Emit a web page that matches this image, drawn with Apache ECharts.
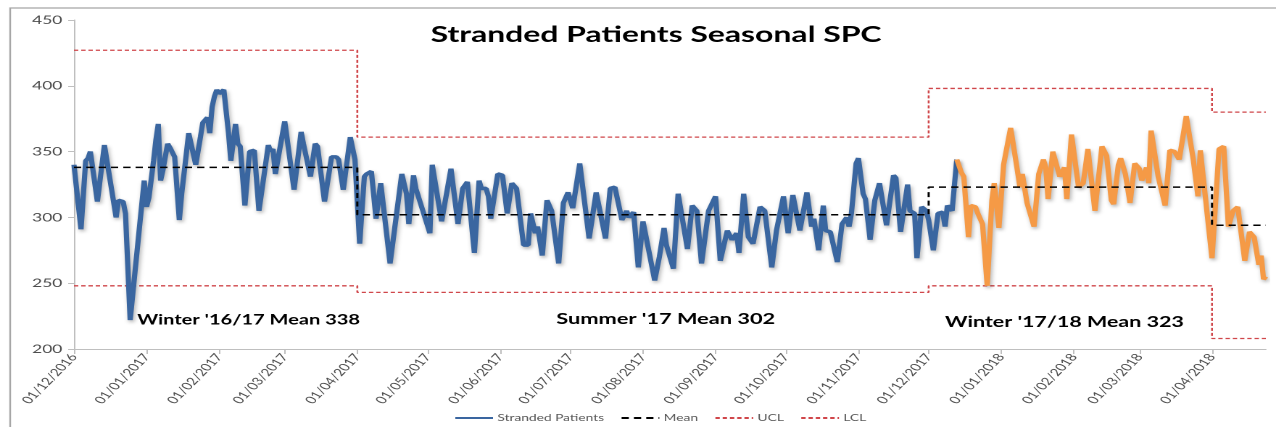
<!DOCTYPE html>
<html><head><meta charset="utf-8">
<script src="https://cdn.jsdelivr.net/npm/echarts@6/dist/echarts.min.js"></script>
<style>
html,body{margin:0;padding:0;background:#fff;overflow:hidden;width:1276px;height:427px}
#c{width:880px;height:427px;transform:scaleX(1.45);transform-origin:0 0}
</style>
</head><body><div id="c"></div>
<script>
// ---- data ----
const chartTitle = 'Stranded Patients Seasonal SPC';
const seriesStart = [2016, 12, 1];            // day 0
// Stranded patients, days since 01/12/2016 (blue part)
const blueDays = [0,3,5,6,7,10,13,14,18,19,21,22,24,25,28,30,31,32,34,35,36,37,38,40,41,43,45,46,49,50,51,52,54,55,57,58,59,60,61,62,64,66,67,69,70,71,73,75,77,79,83,84,85,86,90,94,97,98,101,103,104,107,110,112,113,115,118,120,122,124,125,127,129,131,135,140,142,143,145,146,147,152,153,157,161,164,166,168,171,173,174,176,177,178,181,183,185,187,189,190,192,194,195,196,197,198,200,202,204,207,209,211,213,216,220,223,227,229,231,234,236,237,239,241,243,244,248,250,252,253,254,256,258,262,264,266,268,271,274,276,279,281,283,284,286,288,290,293,295,298,300,303,305,307,310,311,313,315,316,318,320,321,323,326,328,330,331,332,334,335,337,338,340,342,344,345,347,350,351,353,356,357,359,360,362,364,365,367,369,371,372,373,375,377];
const blueValues = [340,291,343,345,350,312,355,354,300,313,312,303,222,221,293,328,308,315,343,359,371,328,336,356,353,346,298,318,364,356,355,340,361,372,376,364,384,392,397,394,397,364,343,371,356,354,309,350,351,305,355,350,352,333,373,321,365,356,331,356,354,312,346,346,344,321,361,344,280,331,333,335,299,326,265,333,318,295,332,322,323,288,340,297,337,295,322,327,273,328,322,322,316,299,333,332,303,326,322,321,279,279,303,304,288,293,271,313,305,265,311,319,307,341,284,319,284,322,323,298,305,300,304,262,297,298,252,270,292,279,279,261,318,276,309,305,265,305,316,267,290,283,288,273,318,285,280,308,305,262,290,316,288,317,290,290,319,293,299,275,309,290,289,266,295,300,293,303,341,345,318,314,283,313,326,327,294,332,330,289,325,305,303,269,308,305,298,275,303,304,293,309,305,344];
// Stranded patients, winter '17/18 (orange part)
const orangeDays = [377,379,380,382,383,385,386,388,390,392,393,395,397,400,401,404,405,407,410,412,414,415,416,418,421,423,424,426,429,431,433,436,439,441,443,444,446,447,449,451,453,455,456,458,459,460,463,466,468,470,472,475,478,480,481,486,489,491,493,495,497,500,502,504,506,507,508,509];
const orangeValues = [344,334,331,285,309,308,303,295,248,313,326,292,340,368,357,323,333,311,293,333,344,338,314,350,331,338,314,363,323,326,352,305,354,347,313,310,340,345,333,311,341,337,328,338,326,366,331,309,351,350,344,377,344,316,351,269,352,354,293,305,308,267,289,285,264,271,253,255];
// Seasonal control limits
const periodStarts = ['01/12/2016', '01/04/2017', '01/12/2017', '01/04/2018'];
const periodEnd = '24/04/2018';
const meanValues = [338, 302, 323, 294];
const uclValues = [427, 361, 398, 380];
const lclValues = [248, 243, 248, 208];
// Axis ticks
const xTickLabels = ['01/12/2016','01/01/2017','01/02/2017','01/03/2017','01/04/2017','01/05/2017','01/06/2017','01/07/2017','01/08/2017','01/09/2017','01/10/2017','01/11/2017','01/12/2017','01/01/2018','01/02/2018','01/03/2018','01/04/2018'];
const yTicks = [200, 250, 300, 350, 400, 450];
// Annotations (text, anchor day, anchor value)
const annotationTexts = ["Winter '16/17 Mean 338", "Summer '17 Mean 302", "Winter '17/18 Mean 323"];
const annotationDays = [27, 206, 372];
const annotationValues = [222, 222.5, 220.5];

// ---- layout / style ----
const annotationFontSizes = [13.8, 15, 14.8];
function parseDMY(s) { const p = s.split('/').map(Number); return new Date(p[2], p[1] - 1, p[0]).getTime(); }
function dayTs(d) { return new Date(seriesStart[0], seriesStart[1] - 1, seriesStart[2] + d).getTime(); }
function pad(n) { return (n < 10 ? '0' : '') + n; }
function fmt(v) { const d = new Date(v); return pad(d.getDate()) + '/' + pad(d.getMonth() + 1) + '/' + d.getFullYear(); }
function stepData(vals) {
  const arr = periodStarts.map((s, i) => [parseDMY(s), vals[i]]);
  arr.push([parseDMY(periodEnd), vals[vals.length - 1]]);
  return arr;
}
const tickTs = xTickLabels.map(parseDMY);
const FONT = 'Lato';
const shadow = { shadowColor: 'rgba(0,0,0,0.3)', shadowBlur: 3, shadowOffsetX: 1, shadowOffsetY: 2 };

const chart = echarts.init(document.getElementById('c'), null, { renderer: 'canvas', devicePixelRatio: 2 });
chart.setOption({
  animation: false,
  backgroundColor: '#ffffff',
  textStyle: { fontFamily: FONT },
  title: {
    text: chartTitle, left: 292, top: 19,
    textStyle: { fontFamily: FONT, fontWeight: 'bold', fontSize: 22, color: '#000' }
  },
  legend: {
    data: ['Stranded Patients', 'Mean', 'UCL', 'LCL'],
    left: 308, top: 408, itemWidth: 26, itemHeight: 10, itemGap: 11,
    itemStyle: { opacity: 0 },
    textStyle: { fontFamily: FONT, fontSize: 9.5, color: '#595959', padding: [0, 0, 0, -2] }
  },
  grid: { left: 51, right: 7, top: 20, bottom: 78, containLabel: false },
  xAxis: {
    type: 'value', min: parseDMY(xTickLabels[0]), max: parseDMY(periodEnd), scale: true,
    axisLine: { lineStyle: { color: '#bfbfbf', width: 1 } },
    axisTick: { show: true, customValues: tickTs, length: 5, lineStyle: { color: '#bfbfbf' } },
    axisLabel: { customValues: tickTs, rotate: 55, formatter: fmt, fontFamily: FONT, fontSize: 10.5, color: '#4d4d4d', margin: 6, showMaxLabel: true, showMinLabel: true },
    splitLine: { show: false }
  },
  yAxis: {
    type: 'value', min: yTicks[0], max: yTicks[yTicks.length - 1], interval: 50,
    axisLine: { show: true, lineStyle: { color: '#bfbfbf', width: 1 } },
    axisTick: { show: true, length: 4, lineStyle: { color: '#bfbfbf' } },
    axisLabel: { fontFamily: FONT, fontSize: 12, color: '#4d4d4d', margin: 8 },
    splitLine: { show: false }
  },
  graphic: [{
    type: 'rect', shape: { x: 7, y: 8, width: 1000, height: 500 },
    style: { fill: 'none', stroke: '#a6a6a6', lineWidth: 1.2 }, z: -10, silent: true
  }],
  series: [
    { name: 'Stranded Patients', type: 'line', symbol: 'none', z: 5,
      data: blueDays.map((d, i) => [dayTs(d), blueValues[i]]),
      lineStyle: Object.assign({ color: '#3A66A0', width: 3.6 }, shadow), itemStyle: { color: '#3A66A0' } },
    { name: "Winter '17/18", type: 'line', symbol: 'none', z: 5,
      data: orangeDays.map((d, i) => [dayTs(d), orangeValues[i]]),
      lineStyle: Object.assign({ color: '#F59A46', width: 3.6 }, shadow), itemStyle: { color: '#F59A46' } },
    { name: 'Mean', type: 'line', symbol: 'none', step: 'end', z: 6,
      data: stepData(meanValues),
      lineStyle: { color: '#000', width: 1.5, type: [5, 3.5] }, itemStyle: { color: '#000' },
      markPoint: {
        symbol: 'circle', symbolSize: 0,
        label: { show: true, position: 'right', distance: 0, fontFamily: FONT, fontWeight: 'bold', color: '#000',
                 formatter: p => p.name },
        data: annotationTexts.map((t, i) => ({ name: t, coord: [dayTs(annotationDays[i]), annotationValues[i]],
                                                 label: { fontSize: annotationFontSizes[i] } }))
      } },
    { name: 'UCL', type: 'line', symbol: 'none', step: 'end', z: 4,
      data: stepData(uclValues),
      lineStyle: { color: '#D0464A', width: 1.3, type: [3, 2] }, itemStyle: { color: '#D0464A' } },
    { name: 'LCL', type: 'line', symbol: 'none', step: 'end', z: 4,
      data: stepData(lclValues),
      lineStyle: { color: '#D0464A', width: 1.3, type: [3, 2] }, itemStyle: { color: '#D0464A' } }
  ]
});
</script></body></html>
